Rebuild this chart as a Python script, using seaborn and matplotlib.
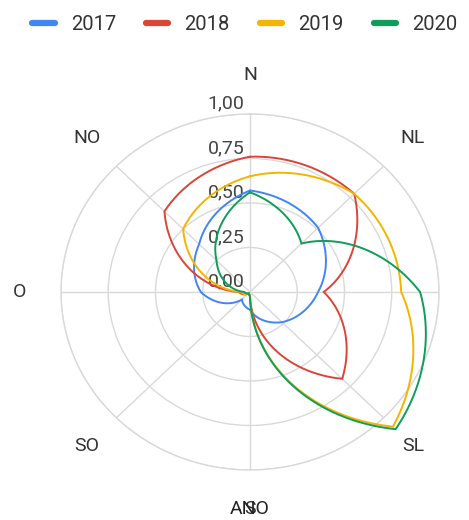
import numpy as np
import pandas as pd
import matplotlib
matplotlib.use("Agg")
import matplotlib.pyplot as plt
import seaborn as sns
from matplotlib.lines import Line2D

# Wind-direction categories (clockwise from north) and yearly values
directions = ["N", "NL", "L", "SL", "S", "SO", "O", "NO"]
years = ["2017", "2018", "2019", "2020"]
v2017 = [0.57, 0.51, 0.36, 0.24, 0.10, 0.06, 0.26, 0.38]
v2018 = [0.76, 0.78, 0.39, 0.69, 0.02, 0.01, 0.06, 0.64]
v2019 = [0.65, 0.78, 0.80, 1.07, 0.02, 0.01, 0.05, 0.50]
v2020 = [0.56, 0.385, 0.90, 1.09, 0.02, 0.01, 0.03, 0.25]
series = [v2017, v2018, v2019, v2020]

radial_ticks = [0.0, 0.25, 0.50, 0.75, 1.00]
radial_labels = ["0,00", "0,25", "0,50", "0,75", "1,00"]
colors = ["#4285F4", "#DB4437", "#F4B400", "#0F9D58"]

sns.set_theme(style="white")
plt.rcParams["font.family"] = ["Roboto", "DejaVu Sans"]

fig = plt.figure(figsize=(4.69, 5.2), dpi=100)
ax = fig.add_axes([0.130, 0.0962, 0.806, 0.6846], projection="polar")
ax.set_aspect("auto")
ax.set_theta_zero_location("N")
ax.set_theta_direction(-1)

angles = np.deg2rad(np.arange(len(directions)) * 45.0)
closed_theta = np.append(angles, 2 * np.pi)

rows = []
for year, vals in zip(years, series):
    closed_r = list(vals) + [vals[0]]
    for order, (t, r) in enumerate(zip(closed_theta, closed_r)):
        rows.append({"ano": year, "order": order, "theta": t, "r": r})
df = pd.DataFrame(rows)

sns.lineplot(data=df, x="theta", y="r", hue="ano",
             palette=dict(zip(years, colors)), sort=False, estimator=None,
             linewidth=1.4, legend=False, ax=ax, clip_on=False, zorder=3)

# segments between categories follow the polar grid (r changes linearly with angle)
for line in ax.lines:
    line.get_path()._interpolation_steps = 90
    line.set_solid_joinstyle("miter")

grid_color = "#d9d9d9"
ax.set_ylim(0, 1)
ax.set_yticks(radial_ticks)
ax.set_yticklabels([])
ax.set_xticks(angles)
ax.set_xticklabels([])
ax.grid(True, color=grid_color, linewidth=1.0)
ax.spines["polar"].set_color(grid_color)
ax.spines["polar"].set_linewidth(1.0)
ax.set_xlabel("")
ax.set_ylabel("")
ax.patch.set_alpha(0)

for r, lab in zip(radial_ticks, radial_labels):
    ax.annotate(lab, xy=(0, r), xytext=(-4, 1), textcoords="offset points",
                ha="right", va="bottom", fontsize=14, color="#444444",
                zorder=1, annotation_clip=False)

for t, d in zip(angles, directions):
    if d == "L":
        # the east label would sit past the right edge of the canvas
        continue
    ax.text(t, 1.22, d, ha="center", va="center", fontsize=14,
            color="#333333", clip_on=False)

fig.text(250 / 469, 1 - 509 / 520, "ANO", ha="center", va="center",
         fontsize=14, color="#222222")

handles = [Line2D([0], [0], color=c, linewidth=4.5) for c in colors]
fig.legend(handles, years, loc="center", bbox_to_anchor=(0.522, 0.952),
           ncol=4, frameon=False, fontsize=14.5, handlelength=1.1,
           handletextpad=0.8, columnspacing=1.5, labelcolor="#333333")

fig.savefig("out.png", dpi=100)
